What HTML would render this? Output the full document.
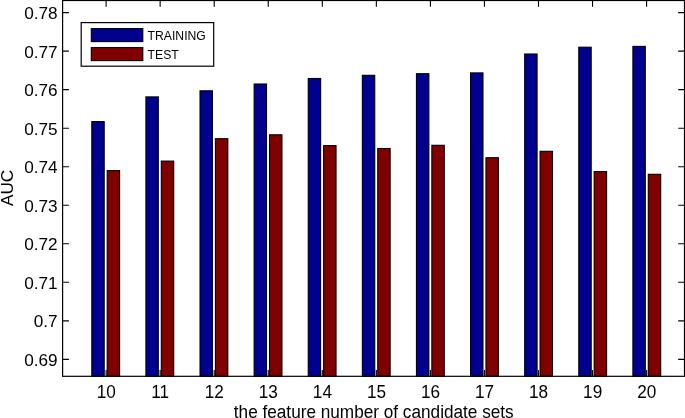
<!DOCTYPE html>
<html><head><meta charset="utf-8"><title>AUC chart</title>
<style>html,body{margin:0;padding:0;background:#fff;overflow:hidden}svg text{font-kerning:normal}</style>
</head><body>
<svg width="685" height="418" viewBox="0 0 685 418" style="display:block;will-change:transform">
<rect x="0" y="0" width="685" height="418" fill="#fff"/>
<rect x="91.80" y="121.60" width="12.4" height="254.70" fill="#00008f" stroke="#000" stroke-width="1.1"/>
<rect x="107.20" y="170.60" width="12.4" height="205.70" fill="#800000" stroke="#000" stroke-width="1.1"/>
<rect x="145.91" y="96.90" width="12.4" height="279.40" fill="#00008f" stroke="#000" stroke-width="1.1"/>
<rect x="161.31" y="161.10" width="12.4" height="215.20" fill="#800000" stroke="#000" stroke-width="1.1"/>
<rect x="200.02" y="90.80" width="12.4" height="285.50" fill="#00008f" stroke="#000" stroke-width="1.1"/>
<rect x="215.42" y="138.70" width="12.4" height="237.60" fill="#800000" stroke="#000" stroke-width="1.1"/>
<rect x="254.13" y="84.00" width="12.4" height="292.30" fill="#00008f" stroke="#000" stroke-width="1.1"/>
<rect x="269.53" y="134.80" width="12.4" height="241.50" fill="#800000" stroke="#000" stroke-width="1.1"/>
<rect x="308.24" y="78.50" width="12.4" height="297.80" fill="#00008f" stroke="#000" stroke-width="1.1"/>
<rect x="323.64" y="145.60" width="12.4" height="230.70" fill="#800000" stroke="#000" stroke-width="1.1"/>
<rect x="362.35" y="75.30" width="12.4" height="301.00" fill="#00008f" stroke="#000" stroke-width="1.1"/>
<rect x="377.75" y="148.50" width="12.4" height="227.80" fill="#800000" stroke="#000" stroke-width="1.1"/>
<rect x="416.46" y="73.70" width="12.4" height="302.60" fill="#00008f" stroke="#000" stroke-width="1.1"/>
<rect x="431.86" y="145.30" width="12.4" height="231.00" fill="#800000" stroke="#000" stroke-width="1.1"/>
<rect x="470.57" y="72.90" width="12.4" height="303.40" fill="#00008f" stroke="#000" stroke-width="1.1"/>
<rect x="485.97" y="157.70" width="12.4" height="218.60" fill="#800000" stroke="#000" stroke-width="1.1"/>
<rect x="524.68" y="54.00" width="12.4" height="322.30" fill="#00008f" stroke="#000" stroke-width="1.1"/>
<rect x="540.08" y="151.30" width="12.4" height="225.00" fill="#800000" stroke="#000" stroke-width="1.1"/>
<rect x="578.79" y="47.20" width="12.4" height="329.10" fill="#00008f" stroke="#000" stroke-width="1.1"/>
<rect x="594.19" y="171.60" width="12.4" height="204.70" fill="#800000" stroke="#000" stroke-width="1.1"/>
<rect x="632.90" y="46.40" width="12.4" height="329.90" fill="#00008f" stroke="#000" stroke-width="1.1"/>
<rect x="648.30" y="174.30" width="12.4" height="202.00" fill="#800000" stroke="#000" stroke-width="1.1"/>
<path d="M106.10 376.3 v-6.3 M106.10 0.5 v6.3 M160.15 376.3 v-6.3 M160.15 0.5 v6.3 M214.20 376.3 v-6.3 M214.20 0.5 v6.3 M268.25 376.3 v-6.3 M268.25 0.5 v6.3 M322.30 376.3 v-6.3 M322.30 0.5 v6.3 M376.35 376.3 v-6.3 M376.35 0.5 v6.3 M430.40 376.3 v-6.3 M430.40 0.5 v6.3 M484.45 376.3 v-6.3 M484.45 0.5 v6.3 M538.50 376.3 v-6.3 M538.50 0.5 v6.3 M592.55 376.3 v-6.3 M592.55 0.5 v6.3 M646.60 376.3 v-6.3 M646.60 0.5 v6.3 M62.6 12.60 h6.3 M684.5 12.60 h-6.3 M62.6 51.13 h6.3 M684.5 51.13 h-6.3 M62.6 89.66 h6.3 M684.5 89.66 h-6.3 M62.6 128.19 h6.3 M684.5 128.19 h-6.3 M62.6 166.72 h6.3 M684.5 166.72 h-6.3 M62.6 205.25 h6.3 M684.5 205.25 h-6.3 M62.6 243.78 h6.3 M684.5 243.78 h-6.3 M62.6 282.31 h6.3 M684.5 282.31 h-6.3 M62.6 320.84 h6.3 M684.5 320.84 h-6.3 M62.6 359.37 h6.3 M684.5 359.37 h-6.3" stroke="#000" stroke-width="1.1" fill="none"/>
<rect x="62.6" y="0.5" width="621.9" height="375.8" fill="none" stroke="#000" stroke-width="1.2"/>
<g font-family="'Liberation Sans', Arial, Helvetica, sans-serif" font-size="17.2px" fill="#000">
<text transform="translate(57.6 19.05) scale(1 0.985)" text-anchor="end">0.78</text>
<text transform="translate(57.6 57.58) scale(1 0.985)" text-anchor="end">0.77</text>
<text transform="translate(57.6 96.11) scale(1 0.985)" text-anchor="end">0.76</text>
<text transform="translate(57.6 134.64) scale(1 0.985)" text-anchor="end">0.75</text>
<text transform="translate(57.6 173.17) scale(1 0.985)" text-anchor="end">0.74</text>
<text transform="translate(57.6 211.70) scale(1 0.985)" text-anchor="end">0.73</text>
<text transform="translate(57.6 250.23) scale(1 0.985)" text-anchor="end">0.72</text>
<text transform="translate(57.6 288.76) scale(1 0.985)" text-anchor="end">0.71</text>
<text transform="translate(57.6 327.29) scale(1 0.985)" text-anchor="end">0.7</text>
<text transform="translate(57.6 365.82) scale(1 0.985)" text-anchor="end">0.69</text>
<text transform="translate(106.20 397.6) scale(1 1.025)" text-anchor="middle">10</text>
<text transform="translate(160.25 397.6) scale(1 1.025)" text-anchor="middle">11</text>
<text transform="translate(214.30 397.6) scale(1 1.025)" text-anchor="middle">12</text>
<text transform="translate(268.35 397.6) scale(1 1.025)" text-anchor="middle">13</text>
<text transform="translate(322.40 397.6) scale(1 1.025)" text-anchor="middle">14</text>
<text transform="translate(376.45 397.6) scale(1 1.025)" text-anchor="middle">15</text>
<text transform="translate(430.50 397.6) scale(1 1.025)" text-anchor="middle">16</text>
<text transform="translate(484.55 397.6) scale(1 1.025)" text-anchor="middle">17</text>
<text transform="translate(538.60 397.6) scale(1 1.025)" text-anchor="middle">18</text>
<text transform="translate(592.65 397.6) scale(1 1.025)" text-anchor="middle">19</text>
<text transform="translate(646.70 397.6) scale(1 1.025)" text-anchor="middle">20</text>
<text transform="translate(373.75 417.65) scale(1 1.015)" text-anchor="middle">the feature number of candidate sets</text>
<text transform="translate(13.15 187.9) rotate(-90)" text-anchor="middle">AUC</text>
</g>
<rect x="81.2" y="22.6" width="132.5" height="43.6" fill="#fff" stroke="#000" stroke-width="1.2"/>
<rect x="91.3" y="28.6" width="51.5" height="13" fill="#00008f" stroke="#000" stroke-width="1.1"/>
<rect x="91.3" y="47.6" width="51.5" height="13" fill="#800000" stroke="#000" stroke-width="1.1"/>
<g font-family="'Liberation Sans', Arial, Helvetica, sans-serif" font-size="12.2px" fill="#000">
<text x="147.6" y="39.8">TRAINING</text>
<text x="147.6" y="58.8">TEST</text>
</g>
</svg>
</body></html>
